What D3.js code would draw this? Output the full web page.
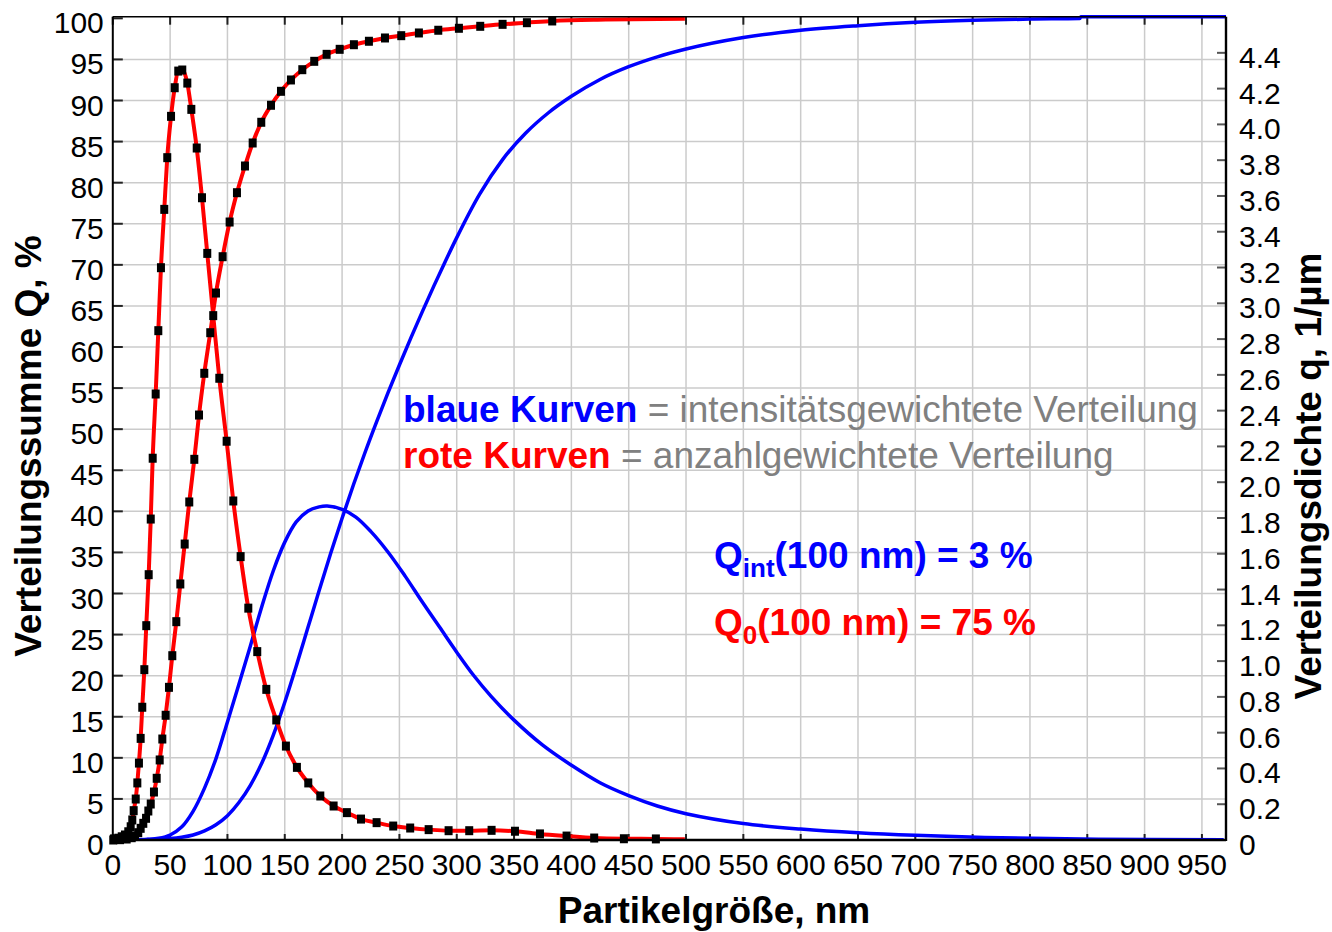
<!DOCTYPE html>
<html><head><meta charset="utf-8">
<script src="https://cdn.jsdelivr.net/npm/d3@7/dist/d3.min.js"></script>
<style>body{margin:0;background:#fff}svg{display:block}text{font-family:"Liberation Sans",Arial,sans-serif}</style>
</head><body><svg id="c" width="1332" height="932"></svg>
<script>
// ---- data ----
// red (number-weighted) density q0, 1/µm  (black square markers)
const redDenSize = [1.0,4.8,7.8,10.6,13.5,15.6,17.0,18.2,20.0,21.4,22.8,24.3,25.7,27.5,29.2,31.3,33.1,34.8,37.4,39.7,42.0,44.9,47.5,50.8,54.0,57.1,60.6,65.0,68.5,73.2,77.8,82.4,87.6,92.9,99.3,105.1,111.5,118.2,126.0,133.9,142.6,151.0,160.6,170.5,181.0,192.6,204.2,216.5,230.1,244.6,259.4,275.5,292.9,310.9,330.4,350.8,372.6,395.8,419.9,445.8,473.7];
const redDen     = [0.006,0.010,0.018,0.028,0.046,0.074,0.112,0.164,0.229,0.319,0.430,0.568,0.742,0.952,1.198,1.483,1.794,2.134,2.493,2.847,3.199,3.525,3.814,4.045,4.205,4.298,4.304,4.231,4.084,3.868,3.590,3.279,2.931,2.581,2.229,1.895,1.584,1.296,1.053,0.842,0.671,0.525,0.406,0.319,0.246,0.190,0.153,0.117,0.097,0.078,0.067,0.058,0.052,0.052,0.054,0.049,0.034,0.022,0.011,0.007,0.006];
const redDenEnd = [499, 0.004];
// red cumulative Q0, %  (black square markers)
const redCumSize = [0.4,6.3,12.1,16.5,19.4,22.2,24.3,26.6,29.0,31.0,33.1,35.9,38.3,40.9,43.2,46.1,49.0,51.9,55.4,58.9,62.7,66.7,71.1,75.2,79.8,85.0,90.0,95.8,101.9,108.3,115.3,122.0,129.5,138.0,146.7,155.4,165.3,175.7,186.5,197.9,210.3,223.4,237.4,251.6,267.0,283.9,301.9,320.5,340.0,361.2,383.3];
const redCum     = [0.00,0.04,0.12,0.28,0.49,0.89,1.42,2.03,2.64,3.53,4.38,5.84,7.51,9.74,12.29,15.18,18.58,22.43,26.57,31.16,36.02,41.14,46.33,51.72,56.80,61.74,66.57,70.99,75.21,78.78,82.03,84.83,87.35,89.42,91.12,92.50,93.75,94.77,95.62,96.23,96.79,97.21,97.61,97.89,98.22,98.55,98.79,99.03,99.27,99.47,99.68];
const redCumEndSize = [430, 499];
const redCumEnd     = [99.85, 99.95];
// blue (intensity-weighted) density, 1/µm
const blueDenSize = [20,30,40,50,60,70,80,90,100,110,120,130,140,150,160,170,180,187,200,212,225,240,255,270,285,300,315,330,350,375,400,425,450,475,500,550,600,650,700,775,860,969];
const blueDen     = [0.001,0.004,0.010,0.028,0.072,0.160,0.290,0.455,0.660,0.870,1.085,1.305,1.505,1.665,1.778,1.838,1.862,1.867,1.848,1.805,1.725,1.610,1.475,1.330,1.190,1.050,0.918,0.803,0.670,0.530,0.418,0.320,0.248,0.190,0.147,0.092,0.061,0.040,0.026,0.012,0.004,0.001];
// blue cumulative, %
const blueCumSize = [30,40,50,60,70,80,90,100,110,120,130,140,150,160,170,180,190,200,210,220,230,240,250,260,270,280,290,300,320,340,360,380,400,425,450,475,500,550,600,650,700,750,800,843.5,844.4,971];
const blueCum     = [0.05,0.09,0.17,0.33,0.61,1.11,1.86,2.96,4.56,6.66,9.36,12.76,16.76,21.16,25.76,30.36,34.86,39.16,43.26,47.16,50.86,54.41,57.81,61.11,64.31,67.41,70.41,73.31,78.61,82.81,86.01,88.51,90.51,92.56,94.11,95.31,96.26,97.66,98.56,99.11,99.51,99.76,99.91,99.98,100.2,100.2];

const xTicks = d3.range(0, 951, 50);
const yTicksLeft = d3.range(0, 101, 5);
const yTicksRight = d3.range(0, 23).map(i => +(i*0.2).toFixed(1));

const xTitle = "Partikelgröße, nm";
const yTitleLeft = "Verteilungssumme Q, %";
const yTitleRight = "Verteilungsdichte q, 1/µm";

// ---- layout ----
const L = 112.8, R = 1226, T = 16.7, B = 840;
const x = d3.scaleLinear().domain([0, 971]).range([L, R]);
const yL = d3.scaleLinear().domain([0, 100.2]).range([B, T]);
const yR = d3.scaleLinear().domain([0, 4.602]).range([B, T]);

const svg = d3.select("#c");
svg.append("defs").append("clipPath").attr("id","clip")
  .append("rect").attr("x",L).attr("y",T-2).attr("width",R-L).attr("height",B-T+2);

// grid
const grid = svg.append("g").attr("stroke","#cbcbcb").attr("stroke-width",1.5);
grid.selectAll(".gv").data(xTicks.filter(d=>d>0)).enter().append("line")
  .attr("x1",d=>x(d)).attr("x2",d=>x(d)).attr("y1",T).attr("y2",B);
grid.selectAll(".gh").data(yTicksLeft.filter(d=>d>0&&d<100)).enter().append("line")
  .attr("x1",L).attr("x2",R).attr("y1",d=>yL(d)).attr("y2",d=>yL(d));

// ticks (inside)
const tk = svg.append("g").attr("stroke","#222").attr("stroke-width",2);
tk.selectAll(".tl").data(yTicksLeft).enter().append("line")
  .attr("x1",L).attr("x2",L+10).attr("y1",d=>yL(d)).attr("y2",d=>yL(d));
tk.selectAll(".tr").data(yTicksRight).enter().append("line").attr("stroke","#555")
  .attr("x1",R-9).attr("x2",R).attr("y1",d=>yR(d)).attr("y2",d=>yR(d));
tk.selectAll(".tb").data(xTicks).enter().append("line")
  .attr("x1",d=>x(d)).attr("x2",d=>x(d)).attr("y1",B).attr("y2",B-6);
tk.selectAll(".tt").data(xTicks).enter().append("line")
  .attr("x1",d=>x(d)).attr("x2",d=>x(d)).attr("y1",T).attr("y2",T+8);

// curves
const plot = svg.append("g").attr("clip-path","url(#clip)");
const line = d3.line().x(d=>x(d[0])).y(d=>d[1]).curve(d3.curveMonotoneX);
const smooth = d3.line().x(d=>x(d[0])).y(d=>d[1]).curve(d3.curveCatmullRom.alpha(0.5));
const blueDenPts = blueDenSize.map((s,i)=>[s, yR(blueDen[i])]);
const blueCumPts = blueCumSize.map((s,i)=>[s, yL(blueCum[i])]);
const redDenPts = redDenSize.map((s,i)=>[s, yR(redDen[i])]);
const redCumPts = redCumSize.map((s,i)=>[s, yL(redCum[i])]);
const redDenLine = [[0, yR(0.005)], ...redDenPts, [redDenEnd[0], yR(redDenEnd[1])]];
const redCumLine = [...redCumPts, ...redCumEndSize.map((s,i)=>[s, yL(redCumEnd[i])])];

plot.append("path").attr("d", smooth(blueDenPts)).attr("fill","none").attr("stroke","#0000ff").attr("stroke-width",3.5);
plot.append("path").attr("d", line(blueCumPts)).attr("fill","none").attr("stroke","#0000ff").attr("stroke-width",3.5);
plot.append("path").attr("d", line(redDenLine)).attr("fill","none").attr("stroke","#ff0000").attr("stroke-width",4);
plot.append("path").attr("d", line(redCumLine)).attr("fill","none").attr("stroke","#ff0000").attr("stroke-width",4);

const mk = svg.append("g").attr("fill","#000");
mk.selectAll(".m1").data(redDenPts).enter().append("rect")
  .attr("x",d=>x(d[0])-4).attr("y",d=>d[1]-4.5).attr("width",8).attr("height",9);
mk.selectAll(".m2").data(redCumPts).enter().append("rect")
  .attr("x",d=>x(d[0])-4).attr("y",d=>d[1]-4.5).attr("width",8).attr("height",9);

// axis lines
const ax = svg.append("g").attr("stroke","#000");
ax.append("line").attr("x1",L).attr("x2",R).attr("y1",T).attr("y2",T).attr("stroke-width",1.6);
ax.append("line").attr("x1",L).attr("x2",R).attr("y1",B).attr("y2",B).attr("stroke-width",2.4);
ax.append("line").attr("x1",L).attr("x2",L).attr("y1",T).attr("y2",B+1).attr("stroke-width",2);
ax.append("line").attr("x1",R).attr("x2",R).attr("y1",T).attr("y2",B+1).attr("stroke-width",2.4);

// tick labels
const lab = svg.append("g").attr("font-size",30).attr("fill","#000");
lab.selectAll(".xl").data(xTicks).enter().append("text")
  .attr("x",d=>x(d)).attr("y",B+35).attr("text-anchor","middle").text(d=>d);
lab.selectAll(".yl").data(yTicksLeft).enter().append("text")
  .attr("x",L-9).attr("y",d=>yL(d)+15).attr("text-anchor","end").text(d=>d);
lab.selectAll(".yr").data(yTicksRight.filter(d=>d<4.5)).enter().append("text")
  .attr("x",R+13).attr("y",d=>yR(d)+15).attr("text-anchor","start").text(d=>d===0?"0":d.toFixed(1));

// axis titles
const tt = svg.append("g").attr("font-size",37).attr("font-weight","bold").attr("fill","#000");
tt.append("text").attr("x",714).attr("y",923).attr("text-anchor","middle").text(xTitle);
tt.append("text").attr("transform","translate(41,446) rotate(-90)").attr("text-anchor","middle").text(yTitleLeft);
tt.append("text").attr("transform","translate(1321,476) rotate(-90)").attr("text-anchor","middle").text(yTitleRight);

// annotations
const an = svg.append("g").attr("font-size",37);
const t1 = an.append("text").attr("x",403).attr("y",422);
t1.append("tspan").attr("font-weight","bold").attr("fill","#0000ff").text("blaue Kurven");
t1.append("tspan").attr("fill","#808080").text(" = intensitätsgewichtete Verteilung");
const t2 = an.append("text").attr("x",403).attr("y",468);
t2.append("tspan").attr("font-weight","bold").attr("fill","#ff0000").text("rote Kurven");
t2.append("tspan").attr("fill","#808080").text(" = anzahlgewichtete Verteilung");

const q1 = an.append("text").attr("x",714).attr("y",568).attr("font-weight","bold").attr("fill","#0000ff");
q1.append("tspan").text("Q");
q1.append("tspan").attr("font-size",26).attr("dy",9).text("int");
q1.append("tspan").attr("dy",-9).text("(100 nm) = 3 %");
const q2 = an.append("text").attr("x",714).attr("y",635).attr("font-weight","bold").attr("fill","#ff0000");
q2.append("tspan").text("Q");
q2.append("tspan").attr("font-size",26).attr("dy",9).text("0");
q2.append("tspan").attr("dy",-9).text("(100 nm) = 75 %");
</script></body></html>
